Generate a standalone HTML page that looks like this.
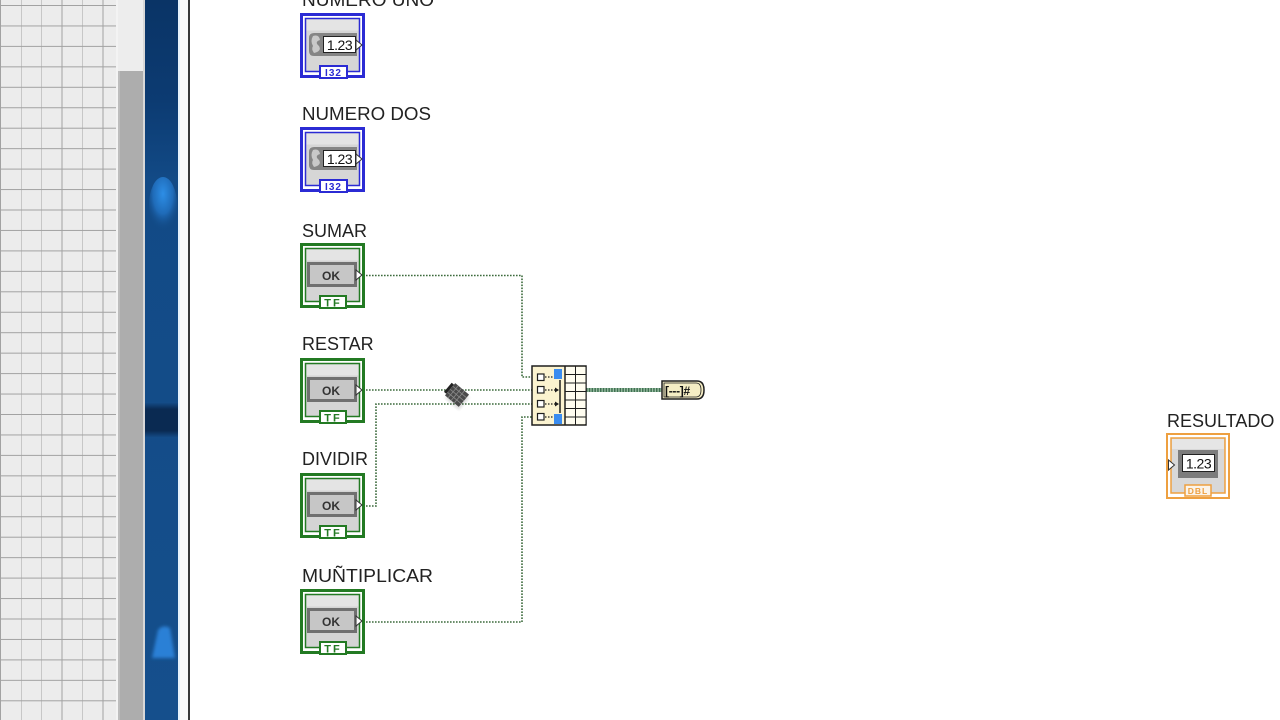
<!DOCTYPE html>
<html>
<head>
<meta charset="utf-8">
<style>
  html,body{margin:0;padding:0;background:#fff;}
  body{width:1280px;height:720px;overflow:hidden;position:relative;}
  svg{position:absolute;left:0;top:0;}
  .lbl{font-family:"Liberation Sans",Arial,sans-serif;font-size:18px;fill:#222;}
  .small{font-family:"Liberation Sans",Arial,sans-serif;}
</style>
</head>
<body>
<svg width="1280" height="720" viewBox="0 0 1280 720" xmlns="http://www.w3.org/2000/svg">
  <defs>
    <pattern id="grid" x="0" y="5" width="20.5" height="20.45" patternUnits="userSpaceOnUse">
      <rect width="20.5" height="20.45" fill="#ececec"/>
      <line x1="0.5" y1="0" x2="0.5" y2="20.45" stroke="#a2a2a2" stroke-width="1"/>
      <line x1="0" y1="0.5" x2="20.5" y2="0.5" stroke="#a2a2a2" stroke-width="1"/>
    </pattern>
    <linearGradient id="blue" x1="0" y1="0" x2="0" y2="1">
      <stop offset="0" stop-color="#0a3466"/>
      <stop offset="0.14" stop-color="#0c3b72"/>
      <stop offset="0.25" stop-color="#124a86"/>
      <stop offset="1" stop-color="#154f8c"/>
    </linearGradient>
    <radialGradient id="blob" cx="0.5" cy="0.3" r="0.65">
      <stop offset="0" stop-color="#2d8ee6"/>
      <stop offset="0.55" stop-color="#1f6bb8"/>
      <stop offset="1" stop-color="#124a86" stop-opacity="0"/>
    </radialGradient>
    <linearGradient id="darkseg" x1="0" y1="0" x2="0" y2="1">
      <stop offset="0" stop-color="#154f8c"/>
      <stop offset="0.2" stop-color="#0a2a52"/>
      <stop offset="0.8" stop-color="#0a2a52"/>
      <stop offset="1" stop-color="#154f8c"/>
    </linearGradient>
    <filter id="blur1"><feGaussianBlur stdDeviation="1.5"/></filter>
  </defs>

  <!-- left grid panel -->
  <rect x="0" y="0" width="117" height="720" fill="url(#grid)"/>
  <rect x="116" y="0" width="2" height="720" fill="#f3f3f3"/>
  <!-- scrollbar -->
  <rect x="118" y="0" width="25" height="720" fill="#ededed"/>
  <rect x="118" y="71" width="25" height="649" fill="#adadad"/>
  <rect x="118" y="71" width="2" height="649" fill="#bdbdbd"/>
  <rect x="143" y="0" width="2" height="720" fill="#d8d8d8"/>
  <!-- blue bar -->
  <rect x="145" y="0" width="33" height="720" fill="url(#blue)"/>
  <ellipse cx="163" cy="205" rx="14" ry="28" fill="url(#blob)"/>
  <rect x="145" y="402" width="33" height="36" fill="url(#darkseg)"/>
  <path d="M158 630 Q163 624 170 628 L175 658 L152 658 Z" fill="#2a80d6" filter="url(#blur1)"/>
  <rect x="178" y="0" width="2" height="720" fill="#e6f2fc"/>
  <rect x="180" y="0" width="8" height="720" fill="#fbfbfb"/>
  <rect x="188" y="0" width="2" height="720" fill="#3a3a3a"/>

  <!-- ============ WIRES ============ -->
  <g fill="none" stroke="#3c6a3c" stroke-width="1.6" stroke-dasharray="1.6 1.4">
    <path d="M366 275.5 H522 V377 H532"/>
    <path d="M366 390 H532"/>
    <path d="M366 506 H376 V404 H532"/>
    <path d="M366 622 H522 V417 H532"/>
  </g>
  <!-- array output wire -->
  <line x1="586" y1="390" x2="662" y2="390" stroke="#9cbfa4" stroke-width="4"/>
  <line x1="586" y1="390" x2="662" y2="390" stroke="#3f7052" stroke-width="4" stroke-dasharray="1.5 1.3"/>

  <!-- ============ NUMERIC CONTROLS ============ -->
  <text class="lbl" x="302" y="6" textLength="132" lengthAdjust="spacingAndGlyphs">NUMERO UNO</text>
  <g transform="translate(300,13)">
    <rect x="1.5" y="1.5" width="62" height="62" fill="#fff" stroke="#2b2bd4" stroke-width="3"/>
    <rect x="5.5" y="5.5" width="54" height="53" fill="#d6d6d6" stroke="#2b2bd4" stroke-width="1.5"/>
    <rect x="6.5" y="6.5" width="52" height="11" fill="#e4e4e4"/>
    <path d="M14 20 H57 V43 H14 Q9 43 9 38 V25 Q9 20 14 20 Z" fill="#858585"/>
    <path d="M13 23 Q19 21 20 27 Q14 29 19 33 Q22 38 14 40 Q11 36 13 33 Q10 28 13 23 Z" fill="#c9c9c9"/>
    <rect x="23.5" y="23.5" width="32" height="16" fill="#fff" stroke="#222" stroke-width="1"/>
    <text class="small" x="39.5" y="37" font-size="14" fill="#111" text-anchor="middle" letter-spacing="-0.5">1.23</text>
    <path d="M56 27 L62 32 L56 37 Z" fill="#fff" stroke="#333" stroke-width="1"/>
    <rect x="20" y="53" width="27" height="12" fill="#fff" stroke="#2b2bd4" stroke-width="2"/>
    <text class="small" x="33.5" y="63" font-size="10" font-weight="bold" fill="#2b2bd4" text-anchor="middle" letter-spacing="1">I32</text>
  </g>

  <text class="lbl" x="302" y="120" textLength="129" lengthAdjust="spacingAndGlyphs">NUMERO DOS</text>
  <g transform="translate(300,127)">
    <rect x="1.5" y="1.5" width="62" height="62" fill="#fff" stroke="#2b2bd4" stroke-width="3"/>
    <rect x="5.5" y="5.5" width="54" height="53" fill="#d6d6d6" stroke="#2b2bd4" stroke-width="1.5"/>
    <rect x="6.5" y="6.5" width="52" height="11" fill="#e4e4e4"/>
    <path d="M14 20 H57 V43 H14 Q9 43 9 38 V25 Q9 20 14 20 Z" fill="#858585"/>
    <path d="M13 23 Q19 21 20 27 Q14 29 19 33 Q22 38 14 40 Q11 36 13 33 Q10 28 13 23 Z" fill="#c9c9c9"/>
    <rect x="23.5" y="23.5" width="32" height="16" fill="#fff" stroke="#222" stroke-width="1"/>
    <text class="small" x="39.5" y="37" font-size="14" fill="#111" text-anchor="middle" letter-spacing="-0.5">1.23</text>
    <path d="M56 27 L62 32 L56 37 Z" fill="#fff" stroke="#333" stroke-width="1"/>
    <rect x="20" y="53" width="27" height="12" fill="#fff" stroke="#2b2bd4" stroke-width="2"/>
    <text class="small" x="33.5" y="63" font-size="10" font-weight="bold" fill="#2b2bd4" text-anchor="middle" letter-spacing="1">I32</text>
  </g>

  <!-- ============ BOOLEAN CONTROLS ============ -->
  <text class="lbl" x="302" y="237">SUMAR</text>
  <g transform="translate(300,243)">
    <rect x="1.5" y="1.5" width="62" height="62" fill="#fff" stroke="#237a23" stroke-width="3"/>
    <rect x="5.5" y="5.5" width="54" height="53" fill="#d4d4d4" stroke="#237a23" stroke-width="1.5"/>
    <rect x="6.5" y="6.5" width="52" height="11" fill="#e4e4e4"/>
    <rect x="7" y="19" width="50" height="25" fill="#707070"/>
    <rect x="10" y="22" width="44" height="19" fill="#c6c6c6"/>
    <text class="small" x="31" y="37" font-size="12" font-weight="bold" fill="#333" text-anchor="middle">OK</text>
    <path d="M56 27 L62 32 L56 37 Z" fill="#fff" stroke="#333" stroke-width="1"/>
    <rect x="20" y="53" width="26" height="12" fill="#fff" stroke="#237a23" stroke-width="2"/>
    <text class="small" x="33" y="63.5" font-size="11" font-weight="bold" fill="#237a23" text-anchor="middle" letter-spacing="2">TF</text>
  </g>

  <text class="lbl" x="302" y="350">RESTAR</text>
  <g transform="translate(300,358)">
    <rect x="1.5" y="1.5" width="62" height="62" fill="#fff" stroke="#237a23" stroke-width="3"/>
    <rect x="5.5" y="5.5" width="54" height="53" fill="#d4d4d4" stroke="#237a23" stroke-width="1.5"/>
    <rect x="6.5" y="6.5" width="52" height="11" fill="#e4e4e4"/>
    <rect x="7" y="19" width="50" height="25" fill="#707070"/>
    <rect x="10" y="22" width="44" height="19" fill="#c6c6c6"/>
    <text class="small" x="31" y="37" font-size="12" font-weight="bold" fill="#333" text-anchor="middle">OK</text>
    <path d="M56 27 L62 32 L56 37 Z" fill="#fff" stroke="#333" stroke-width="1"/>
    <rect x="20" y="53" width="26" height="12" fill="#fff" stroke="#237a23" stroke-width="2"/>
    <text class="small" x="33" y="63.5" font-size="11" font-weight="bold" fill="#237a23" text-anchor="middle" letter-spacing="2">TF</text>
  </g>

  <text class="lbl" x="302" y="465">DIVIDIR</text>
  <g transform="translate(300,473)">
    <rect x="1.5" y="1.5" width="62" height="62" fill="#fff" stroke="#237a23" stroke-width="3"/>
    <rect x="5.5" y="5.5" width="54" height="53" fill="#d4d4d4" stroke="#237a23" stroke-width="1.5"/>
    <rect x="6.5" y="6.5" width="52" height="11" fill="#e4e4e4"/>
    <rect x="7" y="19" width="50" height="25" fill="#707070"/>
    <rect x="10" y="22" width="44" height="19" fill="#c6c6c6"/>
    <text class="small" x="31" y="37" font-size="12" font-weight="bold" fill="#333" text-anchor="middle">OK</text>
    <path d="M56 27 L62 32 L56 37 Z" fill="#fff" stroke="#333" stroke-width="1"/>
    <rect x="20" y="53" width="26" height="12" fill="#fff" stroke="#237a23" stroke-width="2"/>
    <text class="small" x="33" y="63.5" font-size="11" font-weight="bold" fill="#237a23" text-anchor="middle" letter-spacing="2">TF</text>
  </g>

  <text class="lbl" x="302" y="582" textLength="131" lengthAdjust="spacingAndGlyphs">MUÑTIPLICAR</text>
  <g transform="translate(300,589)">
    <rect x="1.5" y="1.5" width="62" height="62" fill="#fff" stroke="#237a23" stroke-width="3"/>
    <rect x="5.5" y="5.5" width="54" height="53" fill="#d4d4d4" stroke="#237a23" stroke-width="1.5"/>
    <rect x="6.5" y="6.5" width="52" height="11" fill="#e4e4e4"/>
    <rect x="7" y="19" width="50" height="25" fill="#707070"/>
    <rect x="10" y="22" width="44" height="19" fill="#c6c6c6"/>
    <text class="small" x="31" y="37" font-size="12" font-weight="bold" fill="#333" text-anchor="middle">OK</text>
    <path d="M56 27 L62 32 L56 37 Z" fill="#fff" stroke="#333" stroke-width="1"/>
    <rect x="20" y="53" width="26" height="12" fill="#fff" stroke="#237a23" stroke-width="2"/>
    <text class="small" x="33" y="63.5" font-size="11" font-weight="bold" fill="#237a23" text-anchor="middle" letter-spacing="2">TF</text>
  </g>

  <!-- ============ BUILD ARRAY NODE ============ -->
  <g>
    <rect x="532" y="366" width="54" height="59" fill="#fbf3d0" stroke="#1e1e1e" stroke-width="1.5"/>
    <rect x="565" y="367" width="20.5" height="57" fill="#fffdf0"/>
    <line x1="565" y1="366" x2="565" y2="425" stroke="#1e1e1e" stroke-width="1.5"/>
    <g stroke="#1e1e1e" stroke-width="1" fill="none">
      <line x1="575.5" y1="366" x2="575.5" y2="425"/>
      <line x1="565" y1="374.5" x2="586" y2="374.5"/>
      <line x1="565" y1="383" x2="586" y2="383"/>
      <line x1="565" y1="391.5" x2="586" y2="391.5"/>
      <line x1="565" y1="400" x2="586" y2="400"/>
      <line x1="565" y1="408.5" x2="586" y2="408.5"/>
      <line x1="565" y1="417" x2="586" y2="417"/>
    </g>
    <rect x="554" y="369" width="8" height="10" fill="#3a8cf0"/>
    <rect x="554" y="414" width="8" height="10" fill="#3a8cf0"/>
    <line x1="560" y1="380" x2="560" y2="413" stroke="#1e1e1e" stroke-width="1.5"/>
    <g fill="#fff" stroke="#1e1e1e" stroke-width="1.2">
      <rect x="537.5" y="374" width="6.5" height="6.5"/>
      <rect x="537.5" y="386.5" width="6.5" height="6.5"/>
      <rect x="537.5" y="400.5" width="6.5" height="6.5"/>
      <rect x="537.5" y="413.5" width="6.5" height="6.5"/>
    </g>
    <g stroke="#1e1e1e" stroke-width="1.2" stroke-dasharray="1.5 1.5" fill="none">
      <line x1="545" y1="377" x2="553" y2="377"/>
      <line x1="545" y1="390" x2="557" y2="390"/>
      <line x1="545" y1="404" x2="557" y2="404"/>
      <line x1="545" y1="417" x2="553" y2="417"/>
    </g>
    <path d="M555 387.5 L559 390 L555 392.5 Z" fill="#1e1e1e"/>
    <path d="M555 401.5 L559 404 L555 406.5 Z" fill="#1e1e1e"/>
  </g>

  <!-- ============ BOOLEAN ARRAY TO NUMBER ============ -->
  <path d="M662 381 H697 Q704 381 704 390 Q704 399 697 399 H662 Z" fill="#f5edc4" stroke="#1e1e1e" stroke-width="1.5"/>
  <path d="M664 383 H696 Q701 383 701 390 Q701 397 696 397 H664 Z" fill="none" stroke="#1e1e1e" stroke-width="0.8"/>
  <text class="small" x="665" y="395" font-size="12" font-weight="bold" fill="#111" letter-spacing="-0.3">[---]#</text>

  <!-- cursor (wiring tool) -->
  <g transform="translate(457,395) rotate(40)">
    <rect x="-9" y="-8" width="18" height="16" fill="#000" opacity="0.15" filter="url(#blur1)" transform="translate(2,2)"/>
    <rect x="-9" y="-8" width="18" height="16" fill="#4a4a4a"/>
    <g stroke="#8a8a8a" stroke-width="0.8">
      <line x1="-9" y1="-4" x2="9" y2="-4"/>
      <line x1="-9" y1="0" x2="9" y2="0"/>
      <line x1="-9" y1="4" x2="9" y2="4"/>
      <line x1="-5" y1="-8" x2="-5" y2="8"/>
      <line x1="-1" y1="-8" x2="-1" y2="8"/>
      <line x1="3" y1="-8" x2="3" y2="8"/>
    </g>
    <rect x="-12" y="-6" width="3" height="12" fill="#222"/>
  </g>

  <!-- ============ RESULTADO INDICATOR ============ -->
  <text class="lbl" x="1167" y="427">RESULTADO</text>
  <g transform="translate(1166,433)">
    <rect x="1" y="1" width="62" height="64" fill="#fff" stroke="#eea040" stroke-width="2"/>
    <rect x="5" y="5" width="54" height="55" fill="#d8d8d8" stroke="#eea040" stroke-width="1.5"/>
    <rect x="6" y="6" width="52" height="10" fill="#e6e6e6"/>
    <path d="M2.5 27 L8.5 32 L2.5 37 Z" fill="#fff" stroke="#333" stroke-width="1"/>
    <rect x="12" y="17" width="40" height="28" fill="#7c7c7c"/>
    <rect x="16.5" y="21.5" width="32" height="17" fill="#fff" stroke="#222" stroke-width="1"/>
    <text class="small" x="32.5" y="35.5" font-size="14" fill="#111" text-anchor="middle" letter-spacing="-0.5">1.23</text>
    <rect x="19" y="52" width="26" height="11" fill="#fbf4ea" stroke="#eea040" stroke-width="1.5"/>
    <text class="small" x="32" y="61" font-size="8.5" font-weight="bold" fill="#eea040" text-anchor="middle" letter-spacing="1">DBL</text>
  </g>
</svg>
</body>
</html>
